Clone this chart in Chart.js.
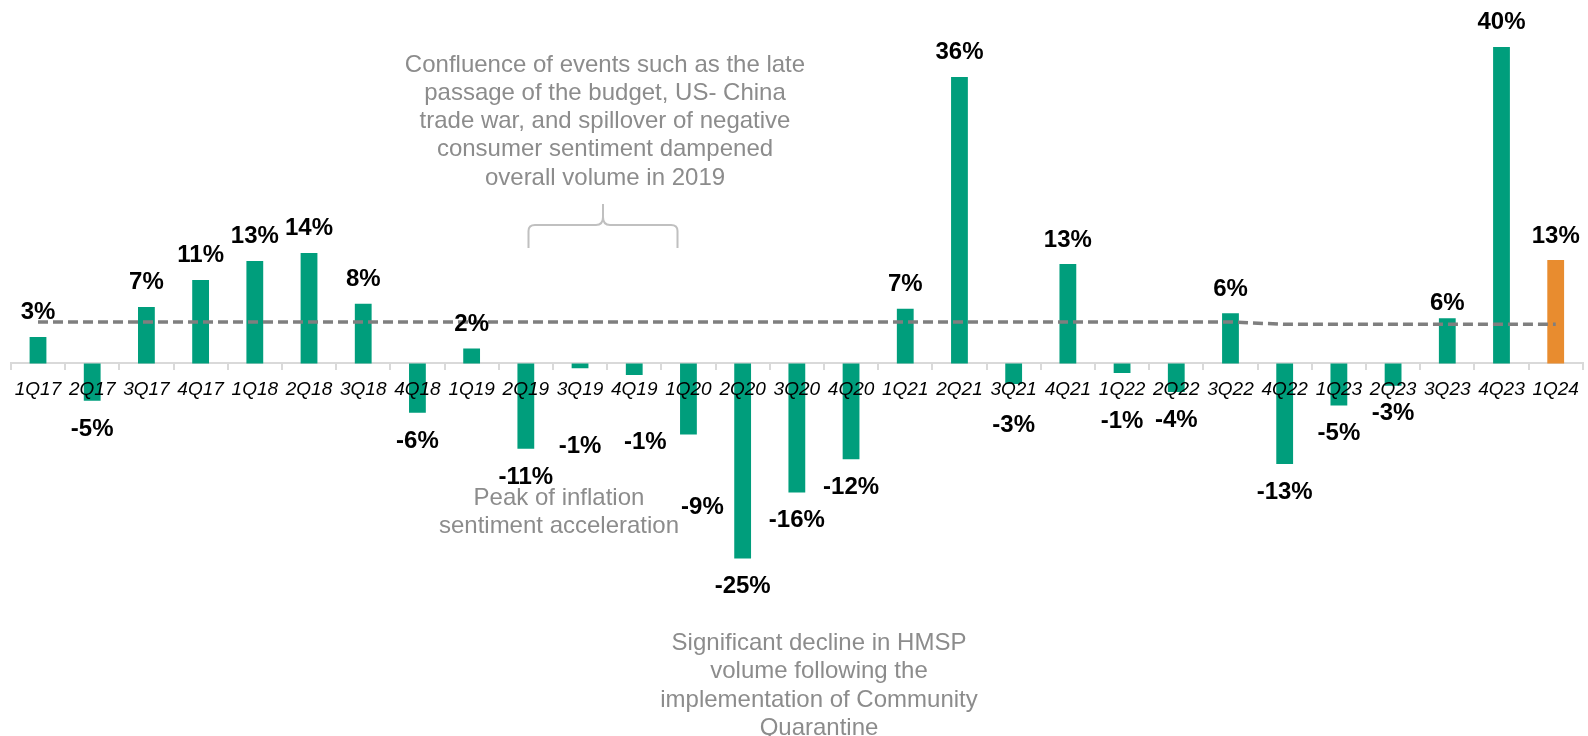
<!DOCTYPE html>
<html>
<head>
<meta charset="utf-8">
<script src="https://cdn.jsdelivr.net/npm/chart.js@4.4.1/dist/chart.umd.min.js"></script>
<style>
  html, body { margin: 0; padding: 0; background: #fff; }
  #wrap { width: 1588px; height: 736px; position: relative; }
</style>
</head>
<body>
<div id="wrap"><canvas id="volumeChart"></canvas></div>
<script>
const quarters = ['1Q17', '2Q17', '3Q17', '4Q17', '1Q18', '2Q18', '3Q18', '4Q18', '1Q19', '2Q19',
  '3Q19', '4Q19', '1Q20', '2Q20', '3Q20', '4Q20', '1Q21', '2Q21', '3Q21', '4Q21',
  '1Q22', '2Q22', '3Q22', '4Q22', '1Q23', '2Q23', '3Q23', '4Q23', '1Q24']

// quarter-on-quarter volume growth, %
const growth = [3.36, -4.72, 7.15, 10.55, 12.96, 13.97, 7.55, -6.23, 1.89, -10.78,
  -0.6, -1.45, -8.96, -24.65, -16.3, -12.1, 6.93, 36.2, -2.6, 12.56,
  -1.2, -3.6, 6.34, -12.7, -5.3, -2.8, 5.7, 40.0, 13.07]

// average growth line
const avgGrowth = [5.24, 5.24, 5.24, 5.24, 5.24, 5.24, 5.24, 5.24, 5.24, 5.24,
  5.24, 5.24, 5.24, 5.24, 5.24, 5.24, 5.24, 5.24, 5.24, 5.24,
  5.24, 5.24, 5.24, 4.95, 4.95, 4.95, 4.95, 4.95, 4.95]

const green = '#009e7c'
const orange = '#e88c2f'
const fontFamily = "'Liberation Sans', Arial, sans-serif"

// hand placement for a few labels that sit away from their bars
const labelNudge = {
  '3Q19': [0, 50],
  '4Q19': [11, 39],
  '1Q20': [14, 45],
  '3Q21': [0, 13],
  '1Q22': [0, 20],
  '3Q23': [0, 9]
}

const notes = [
  { x: 605, y: 71.5, lines: ['Confluence of events such as the late', 'passage of the budget, US- China',
    'trade war, and spillover of negative', 'consumer sentiment dampened', 'overall volume in 2019'] },
  { x: 559, y: 505, lines: ['Peak of inflation', 'sentiment acceleration'] },
  { x: 819, y: 650, lines: ['Significant decline in HMSP', 'volume following the',
    'implementation of Community', 'Quarantine'] }
]

const valueLabels = {
  id: 'valueLabels',
  afterDraw(chart) {
    const ctx = chart.ctx
    const meta = chart.getDatasetMeta(0)
    ctx.save()
    ctx.font = `bold 24px ${fontFamily}`
    ctx.fillStyle = '#000'
    ctx.textAlign = 'center'
    ctx.textBaseline = 'alphabetic'
    meta.data.forEach((bar, i) => {
      const v = growth[i]
      const nudge = labelNudge[quarters[i]] || [0, 0]
      const y = v >= 0 ? bar.y - 17.5 : bar.y + 17.5 + 17.2
      ctx.fillText(`${Math.round(v)}%`, bar.x + nudge[0], y + nudge[1])
    })
    ctx.restore()
  }
}

const notesPlugin = {
  id: 'notes',
  afterDraw(chart) {
    const ctx = chart.ctx
    ctx.save()
    ctx.font = `24px ${fontFamily}`
    ctx.fillStyle = '#8c8c8c'
    ctx.textAlign = 'center'
    ctx.textBaseline = 'alphabetic'
    notes.forEach(n => {
      n.lines.forEach((line, k) => ctx.fillText(line, n.x, n.y + k * 28.3))
    })

    // curly brace over the 2019 quarters
    ctx.strokeStyle = '#c0c0c0'
    ctx.lineWidth = 2
    ctx.beginPath()
    ctx.moveTo(528.5, 248)
    ctx.lineTo(528.5, 231)
    ctx.quadraticCurveTo(528.5, 225, 535, 225)
    ctx.lineTo(596, 225)
    ctx.quadraticCurveTo(603, 225, 603, 217)
    ctx.lineTo(603, 204)
    ctx.moveTo(603, 217)
    ctx.quadraticCurveTo(603, 225, 610, 225)
    ctx.lineTo(671, 225)
    ctx.quadraticCurveTo(677.5, 225, 677.5, 231)
    ctx.lineTo(677.5, 248)
    ctx.stroke()
    ctx.restore()
  }
}

new Chart(document.getElementById('volumeChart'), {
  type: 'bar',
  data: {
    labels: quarters,
    datasets: [
      {
        type: 'bar',
        data: growth,
        backgroundColor: quarters.map((q, i) => i === quarters.length - 1 ? orange : green),
        barPercentage: 0.31,
        categoryPercentage: 1,
        order: 2
      },
      {
        type: 'line',
        data: avgGrowth,
        borderColor: '#7f7f7f',
        borderWidth: 3.5,
        borderDash: [10, 5],
        pointRadius: 0,
        tension: 0,
        fill: false,
        order: 1
      }
    ]
  },
  options: {
    responsive: true,
    maintainAspectRatio: false,
    animation: false,
    layout: { padding: { left: 10.9, right: 3.6, top: 7.3, bottom: 8.4 } },
    plugins: {
      legend: { display: false },
      tooltip: { enabled: false }
    },
    scales: {
      y: {
        display: false,
        min: -46,
        max: 45
      },
      x: {
        position: { y: 0 },
        offset: true,
        grid: {
          offset: true,
          drawOnChartArea: false,
          drawTicks: true,
          tickLength: 6,
          color: '#d9d9d9',
          lineWidth: 2
        },
        border: { color: '#d9d9d9', width: 2 },
        ticks: {
          z: 1,
          color: '#000',
          padding: 9,
          maxRotation: 0,
          autoSkip: false,
          font: { family: fontFamily, size: 19, style: 'italic' }
        }
      }
    }
  },
  plugins: [valueLabels, notesPlugin]
})
</script>
</body>
</html>
